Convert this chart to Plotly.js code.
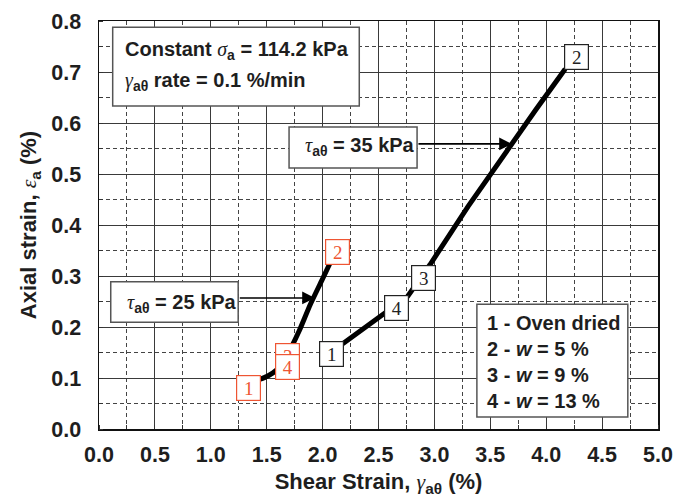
<!DOCTYPE html>
<html>
<head>
<meta charset="utf-8">
<script src="https://cdn.plot.ly/plotly-3.0.1.min.js"></script>
<style>html,body{margin:0;padding:0;background:#fff}</style>
</head>
<body>
<div id="chart" style="width:674px;height:504px"></div>
<script>
// Stress path at tau = 25 kPa (shear strain %, axial strain %)
const shear25 = [1.435, 1.51, 1.59, 1.66, 1.72, 1.79, 1.89, 1.99, 2.066];
const axial25 = [0.097, 0.104, 0.116, 0.135, 0.160, 0.192, 0.244, 0.290, 0.325];
// Stress path at tau = 35 kPa
const shear35 = [2.18, 2.57, 2.76, 2.96, 3.30, 3.91, 4.17];
const axial35 = [0.167, 0.228, 0.260, 0.322, 0.436, 0.627, 0.706];

// Moisture-state tags placed along each path
const tags25 = ['1', '3', '4', '2'];
const tagX25 = [1.335, 1.686, 1.686, 2.135];
const tagY25 = [0.081, 0.144, 0.122, 0.348];
const tags35 = ['1', '4', '3', '2'];
const tagX35 = [2.078, 2.663, 2.898, 4.269];
const tagY35 = [0.147, 0.238, 0.296, 0.729];

// Arrow tips pointing at each path
const arrowTipX = [1.932, 3.694];
const arrowTailX = [1.246, 2.844];
const arrowY = [0.257, 0.559];

// Tick values
const xTicks = [0, 0.5, 1, 1.5, 2, 2.5, 3, 3.5, 4, 4.5, 5];
const xTickText = ['0.0','0.5','1.0','1.5','2.0','2.5','3.0','3.5','4.0','4.5','5.0'];
const yTicks = [0, 0.1, 0.2, 0.3, 0.4, 0.5, 0.6, 0.7, 0.8];
const yTickText = ['0.0','0.1','0.2','0.3','0.4','0.5','0.6','0.7','0.8'];

const SANS = 'Liberation Sans, Arial, sans-serif';
const SERIF = 'Liberation Serif, Times New Roman, serif';
const ORANGE = '#EE5533';
const INK = '#1e1e1e';
const g = (ch) => `<span style="font-family:'Liberation Serif';font-style:italic;font-weight:normal">${ch}</span>`;

const traces = [
  {x: shear25, y: axial25, mode: 'lines', line: {color: '#000', width: 5, shape: 'spline', smoothing: 0.6}, hoverinfo: 'skip'},
  {x: shear35, y: axial35, mode: 'lines', line: {color: '#000', width: 5}, hoverinfo: 'skip'}
];

const annotations = [];
function tag(t, x, y, color) {
  annotations.push({
    x: x, y: y, xref: 'x', yref: 'y', text: t, showarrow: false,
    font: {family: SERIF, size: 19, color: color},
    bgcolor: '#fff', bordercolor: color, borderwidth: 1.2, borderpad: 2,
    width: 19, height: 20
  });
}
tags25.forEach((t, i) => tag(t, tagX25[i], tagY25[i], ORANGE));
tags35.forEach((t, i) => tag(t, tagX35[i], tagY35[i], '#222'));

// arrows from the tau boxes to the paths
arrowTipX.forEach((tx, i) => annotations.push({
  x: tx, y: arrowY[i], xref: 'x', yref: 'y',
  ax: arrowTailX[i], ay: arrowY[i], axref: 'x', ayref: 'y',
  text: ' ', font: {size: 1}, showarrow: true,
  arrowhead: 2, arrowsize: 1.6, arrowwidth: 1.6, arrowcolor: '#000', standoff: 0, startstandoff: 0
}));

function label(text, x, y) {
  annotations.push({
    x: x, y: y, xref: 'paper', yref: 'paper', xanchor: 'left', yanchor: 'middle',
    text: text, showarrow: false, align: 'left',
    font: {family: SANS, size: 20, color: INK, weight: 'bold'}
  });
}
label(`Constant ${g('σ')}<sub>a</sub> = 114.2 kPa`, 0.0429, 0.928);
label(`${g('γ')}<sub>aθ</sub> rate = 0.1 %/min`, 0.0429, 0.851);
label(`${g('τ')}<sub>aθ</sub> = 25 kPa`, 0.0465, 0.308);
label(`${g('τ')}<sub>aθ</sub> = 35 kPa`, 0.3655, 0.692);
label('1 - Oven dried', 0.6905, 0.2586);
label('2 - <i>w</i> = 5 %', 0.6905, 0.1956);
label('3 - <i>w</i> = 9 %', 0.6905, 0.1326);
label('4 - <i>w</i> = 13 %', 0.6905, 0.0696);

const box = (x0, x1, y0, y1) => ({
  type: 'rect', xref: 'paper', yref: 'paper', x0: x0, x1: x1, y0: y0, y1: y1,
  fillcolor: '#fff', line: {color: '#555', width: 1.5}, layer: 'above'
});
const shapes = [
  box(0.0245, 0.4656, 0.7917, 0.9846),
  box(0.021, 0.249, 0.2615, 0.361),
  box(0.340, 0.569, 0.640, 0.740),
  box(0.676, 0.946, 0.0294, 0.306)
];

const axisCommon = {
  showline: true, linecolor: '#111', linewidth: 1.5, mirror: true,
  showgrid: true, gridcolor: '#3a3a3a', gridwidth: 1,
  zeroline: false, ticks: '',
  tickfont: {family: SANS, size: 21.5, color: INK, weight: 'bold'}
};

const layout = {
  width: 674, height: 504,
  margin: {l: 99, r: 16, t: 21, b: 75},
  paper_bgcolor: '#fff', plot_bgcolor: '#fff',
  showlegend: false,
  xaxis: Object.assign({}, axisCommon, {
    range: [0, 5], tickvals: xTicks, ticktext: xTickText,
    ticklabelstandoff: 6,
    minor: {dtick: 0.25, showgrid: true, gridcolor: '#444', griddash: '4px,3px', gridwidth: 1, ticks: 'inside', ticklen: 4, tickcolor: '#333'},
    title: {text: `Shear Strain, ${g('γ')}<sub>aθ</sub> (%)`, font: {family: SANS, size: 22, color: INK, weight: 'bold'}, standoff: 7}
  }),
  yaxis: Object.assign({}, axisCommon, {
    range: [0, 0.8], tickvals: yTicks, ticktext: yTickText,
    ticklabelstandoff: 12,
    minor: {dtick: 0.05, showgrid: true, gridcolor: '#444', griddash: '4px,3px', gridwidth: 1, ticks: 'inside', ticklen: 4, tickcolor: '#333'},
    title: {text: `Axial strain, ${g('ε')}<sub>a</sub> (%)`, font: {family: SANS, size: 22, color: INK, weight: 'bold'}, standoff: 8}
  }),
  shapes: shapes,
  annotations: annotations
};

Plotly.newPlot('chart', traces, layout, {displayModeBar: false, staticPlot: true});
</script>
</body>
</html>
